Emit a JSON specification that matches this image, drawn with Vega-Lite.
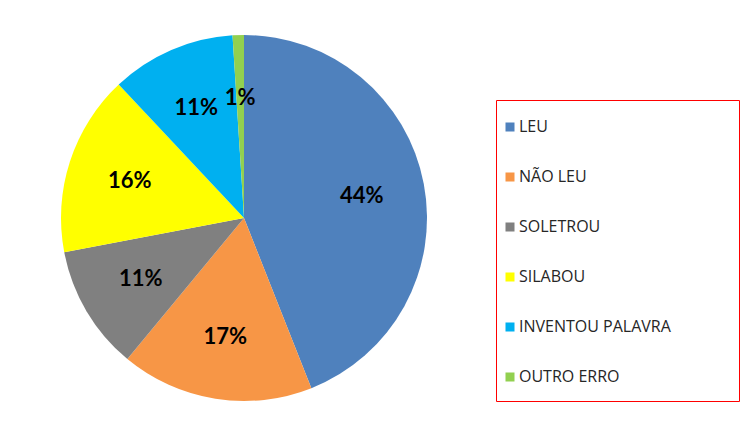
{
  "$schema": "https://vega.github.io/schema/vega-lite/v6.json",
  "width": 488,
  "height": 436,
  "padding": 0,
  "background": "white",
  "config": {"view": {"stroke": null}},
  "data": {
    "values": [
      {"categoria": "LEU", "valor": 0.44},
      {"categoria": "NÃO LEU", "valor": 0.17},
      {"categoria": "SOLETROU", "valor": 0.11},
      {"categoria": "SILABOU", "valor": 0.16},
      {"categoria": "INVENTOU PALAVRA", "valor": 0.11},
      {"categoria": "OUTRO ERRO", "valor": 0.01}
    ]
  },
  "transform": [{"window": [{"op": "row_number", "as": "ordem"}]}],
  "encoding": {
    "theta": {"field": "valor", "type": "quantitative", "stack": true},
    "order": {"field": "ordem", "type": "quantitative"}
  },
  "layer": [
    {
      "mark": {"type": "arc", "outerRadius": 183, "stroke": null},
      "encoding": {
        "color": {
          "field": "categoria",
          "type": "nominal",
          "sort": null,
          "scale": {
            "domain": ["LEU", "NÃO LEU", "SOLETROU", "SILABOU", "INVENTOU PALAVRA", "OUTRO ERRO"],
            "range": ["#4F81BD", "#F79646", "#808080", "#FFFF00", "#00B0F0", "#92D050"]
          },
          "legend": {
            "orient": "none",
            "legendX": 496,
            "legendY": 100,
            "title": " ",
            "titleFontSize": 1,
            "titlePadding": 2,
            "padding": 6,
            "strokeColor": "#FF0000",
            "fillColor": "white",
            "symbolType": "square",
            "symbolSize": 81,
            "symbolStrokeWidth": 0,
            "symbolOpacity": 1,
            "labelFont": "Open Sans",
            "labelFontSize": 16,
            "labelColor": "#262626",
            "labelOffset": 1,
            "clipHeight": 36,
            "rowPadding": 14,
            "labelLimit": 400,
            "labelExpr": "datum.label + '\u00a0\u00a0\u00a0\u00a0\u00a0\u00a0\u00a0\u00a0\u00a0\u00a0\u00a0\u00a0\u2800'"
          }
        }
      }
    },
    {
      "mark": {"type": "text", "radius": 120, "font": "Lato", "fontWeight": "bold", "fontSize": 22, "color": "black"},
      "encoding": {
        "text": {"field": "valor", "type": "quantitative", "format": ".0%"}
      }
    }
  ]
}
